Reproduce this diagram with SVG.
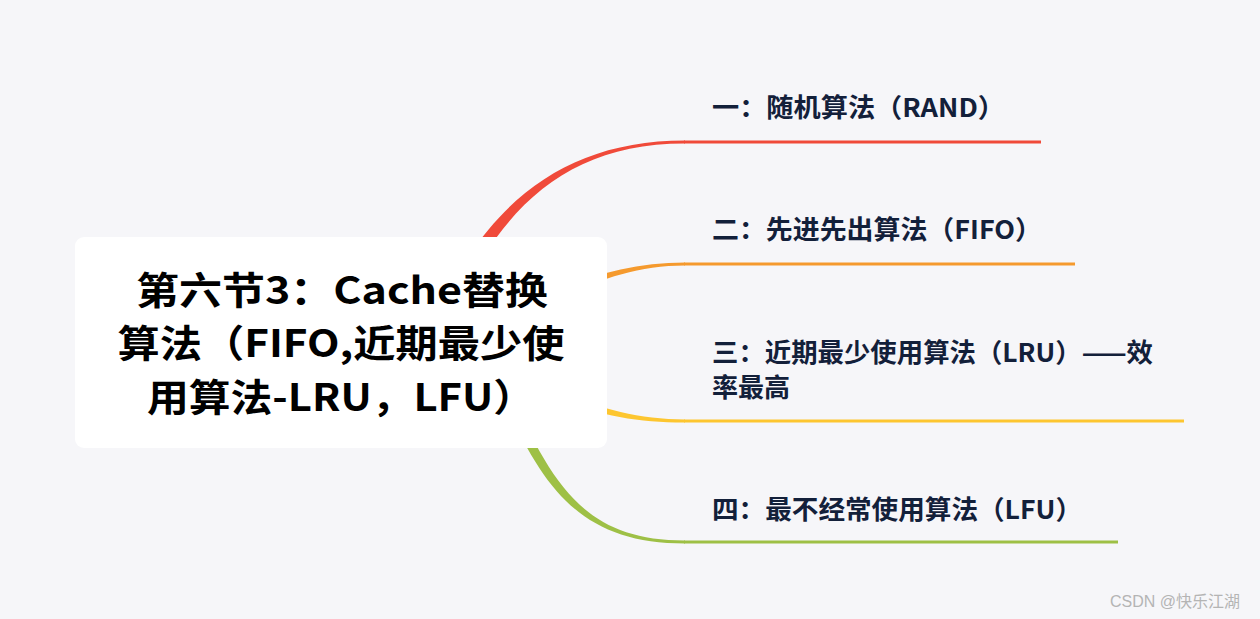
<svg xmlns="http://www.w3.org/2000/svg" width="1260" height="619" viewBox="0 0 1260 619">
<style>
.bg{fill:#f6f6f9}
.root{fill:#ffffff}
.rt{font-family:"Noto Sans CJK SC","Noto Sans",sans-serif;font-weight:bold;font-size:38px;fill:#000000;text-anchor:middle}
.bt{font-family:"Noto Sans CJK SC","Noto Sans",sans-serif;font-weight:bold;font-size:26px;fill:#13203a}
.wm{font-family:"Liberation Sans","Noto Sans CJK SC",sans-serif;font-size:16px;fill:#b4b4b4}
.ln{fill:none;stroke-width:3}
</style>
<rect class="bg" x="0" y="0" width="1260" height="619"/>
<g id="connectors">
  <path fill="#f04a3a" d="M444,298 C496,197 570,140.6 685,140.5 L685,143.5 C570,143.4 505,204 457,305 Z"/>
  <line class="ln" stroke="#f04a3a" x1="684" y1="142" x2="1041" y2="142"/>
  <path fill="#f59a2e" d="M560,289 C600,272 640,262.6 685,262.5 L685,265.5 C640,265.6 602,278 563,297 Z"/>
  <line class="ln" stroke="#f59a2e" x1="684" y1="264" x2="1075" y2="264"/>
  <path fill="#fdc630" d="M560,391 C600,409 640,419.4 685,419.5 L685,422.5 C640,422.6 600,416 557,399 Z"/>
  <line class="ln" stroke="#fdc630" x1="684" y1="421" x2="1184" y2="421"/>
  <path fill="#9ec046" d="M504,378 C550,480 580,540.6 685,540.5 L685,543.5 C578,543.4 540,486 496,382 Z"/>
  <line class="ln" stroke="#9ec046" x1="684" y1="542" x2="1118" y2="542"/>
</g>
<g id="root">
  <rect class="root" x="75" y="237" width="532" height="211" rx="9"/>
  <text class="rt" x="342" y="304" textLength="412" lengthAdjust="spacingAndGlyphs">第六节3：Cache替换</text>
  <text class="rt" x="341" y="357" textLength="447" lengthAdjust="spacingAndGlyphs">算法（FIFO,近期最少使</text>
  <text class="rt" x="341" y="411" textLength="388" lengthAdjust="spacingAndGlyphs">用算法-LRU，LFU）</text>
</g>
<g id="n1">
  <text class="bt" x="712" y="117" textLength="293" lengthAdjust="spacingAndGlyphs">一：随机算法（RAND）</text>
</g>
<g id="n2">
  <text class="bt" x="712" y="239" textLength="330" lengthAdjust="spacingAndGlyphs">二：先进先出算法（FIFO）</text>
</g>
<g id="n3">
  <text class="bt" x="712" y="362" textLength="441" lengthAdjust="spacingAndGlyphs">三：近期最少使用算法（LRU）——效</text>
  <text class="bt" x="712" y="397">率最高</text>
</g>
<g id="n4">
  <text class="bt" x="712" y="519" textLength="370" lengthAdjust="spacingAndGlyphs">四：最不经常使用算法（LFU）</text>
</g>
<text class="wm" x="1110" y="607">CSDN @快乐江湖</text>
</svg>
